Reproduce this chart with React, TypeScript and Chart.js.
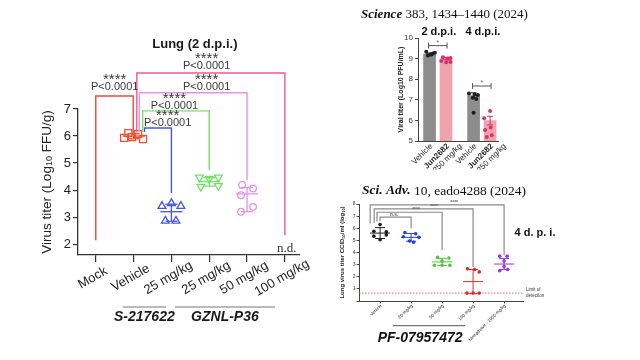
import { useEffect, useRef } from "react";
import { Chart, registerables } from "chart.js";

Chart.register(...registerables);

const SANS = "'Liberation Sans', Arial, Helvetica, sans-serif";
const SERIF = "'Liberation Serif', 'Times New Roman', serif";

// ---------------- Panel 1: Lung (2 d.p.i.) ----------------
const lungCategories = ["Mock", "Vehicle", "25 mg/kg", "25 mg/kg", "50 mg/kg", "100 mg/kg"];
const lungDrugGroups = ["S-217622", "GZNL-P36"];
const lungDrugSpans = [[0.71, 1.86], [2.09, 4.74]];
const vehicleTiter = [5.93, 6.11, 5.96, 6.07, 5.89];
const vehicleJitter = [-0.25, -0.14, -0.04, 0.12, 0.25];
const s217622Titer = [3.41, 3.51, 3.41, 2.86, 2.86];
const s217622Jitter = [-0.25, 0, 0.25, -0.16, 0.12];
const gznl25Titer = [4.47, 4.42, 4.47, 4.13, 4.16];
const gznl25Jitter = [-0.26, 0, 0.24, -0.22, 0.24];
const gznl50Titer = [4.19, 4.06, 3.81, 3.38, 3.2];
const gznl50Jitter = [-0.13, 0.16, -0.16, 0.16, -0.16];
const lungCenter = [NaN, 6.0, 3.2, 4.31, 3.86, NaN];
const lungLow = [NaN, 5.9, 2.85, 4.15, 3.2, NaN];
const lungHigh = [NaN, 6.09, 3.48, 4.46, 4.1, NaN];
// [from, to, top, fromEnd, toEnd]
const lungBrackets = [
  [0, 0.99, 7.48, 2.15, 6.1],
  [1.085, 5, 8.33, 6.15, 2.33],
  [1.15, 4, 7.6, 6.15, 4.37],
  [1.24, 3, 6.93, 6.15, 4.74],
  [1.29, 2, 6.3, 6.15, 3.89],
];
const lungStars = ["****", "****", "****", "****", "****"];
const lungPValues = ["P<0.0001", "P<0.0001", "P<0.0001", "P<0.0001", "P<0.0001"];
const lungLabelX = [0.5, 2.93, 2.93, 2.08, 1.9];
const lungLabelY = [7.81, 8.59, 7.81, 7.11, 6.48];
const lungNotDetected = { x: 5.05, y: 1.85, text: "n.d." };

// ---------------- Panel 2: Science ----------------
const sciLabels = ["Vehicle", "Jun2682", "Vehicle", "Jun2682"];
const sciDose = ["", "250 mg/kg", "", "250 mg/kg"];
const sciX = [0, 1, 2.67, 3.67];
const sciPeriods = ["2 d.p.i.", "4 d.p.i."];
const sciBarMean = [9.22, 9.0, 7.2, 5.99];
const sciBarSem = [0.05, 0.06, 0.14, 0.21];
const sciVehicle2 = [9.33, 9.2, 9.25, 9.28, 9.15, 9.2];
const sciVehicle2Jitter = [-0.2, 0.05, 0.2, 0.32, -0.1, 0.12];
const sciJun2 = [9.06, 9.01, 9.03, 8.88, 8.82, 8.84];
const sciJun2Jitter = [-0.19, 0.11, 0.27, -0.29, 0.01, 0.27];
const sciVehicle4 = [7.31, 7.26, 7.23, 7.1, 7.04, 6.37];
const sciVehicle4Jitter = [-0.28, 0.06, 0.26, -0.04, 0.16, 0];
const sciJun4 = [6.46, 6.1, 5.65, 5.53, 5.2, 5.28];
const sciJun4Jitter = [0, -0.36, 0.04, -0.3, -0.2, 0.1];
const sciBracketY = [9.63, 7.67];
const sciBracketMark = ["*", "*"];

// ---------------- Panel 3: Sci. Adv. ----------------
const advLabels = ["Vehicle", "20 mg/kg", "50 mg/kg", "150 mg/kg", "Nirmatrelvir - 1000 mg/kg"];
const advVehicle = [6.3, 5.75, 5.7, 5.35, 5.45, 5.05];
const advVehicleJitter = [0, -0.2, 0.2, -0.2, 0.2, 0];
const adv20 = [5.65, 5.55, 5.3, 5.25, 4.95, 4.85];
const adv20Jitter = [-0.2, 0.15, -0.25, 0.25, -0.05, 0.08];
const adv50 = [3.6, 3.55, 3.3, 2.95, 2.95, 2.95];
const adv50Jitter = [-0.15, 0.22, 0, -0.25, 0, 0.25];
const adv150 = [2.65, 2.6, 2.4, 0.65, 0.65, 0.65];
const adv150Jitter = [-0.18, 0.05, 0.2, -0.2, 0, 0.2];
const advNirma = [3.7, 3.7, 3.3, 2.85, 2.5, 2.6];
const advNirmaJitter = [-0.14, 0.1, 0, 0, -0.14, 0.12];
const advMean = [5.6, 5.25, 3.22, 1.6, 3.05];
const advSd = [0.45, 0.32, 0.3, 1.0, 0.45];
// [from, to, top, fromEnd, toEnd]
const advBrackets = [
  [-0.32, 4, 7.93, 6.4, 3.77],
  [-0.19, 3, 7.6, 6.45, 2.8],
  [-0.1, 2, 7.32, 6.55, 4.2],
  [0, 1, 6.91, 6.6, 6.0],
];
const advMarks = ["****", "****", "****", "n.s."];
const advMarkX = [2.39, 1.74, 1.16, 0.45];
const advLimit = 0.65;
const advDrug = "PF-07957472";
const advDrugSpan = [0.42, 2.74];

// ---------------- styles ----------------
const C_VEH = "#ee5232";
const C_RED = "#ea4a3c";
const C_PINK = "#ee5b8f";
const C_VIOLET = "#e394e6";
const C_GREEN = "#74e06a";
const C_BLUE = "#4258e4";
const lungBracketColors = [C_RED, C_PINK, C_VIOLET, C_GREEN, C_BLUE];
const lungGroupColors = ["", C_VEH, C_BLUE, C_GREEN, C_VIOLET, ""];
const advColors = ["#1a1a1a", "#2a3fe0", "#4fc43c", "#e02a2a", "#9a32e0"];

function seg(ctx: any, x1: number, y1: number, x2: number, y2: number) {
  ctx.beginPath();
  ctx.moveTo(x1, y1);
  ctx.lineTo(x2, y2);
  ctx.stroke();
}

function rich(ctx: any, parts: any[], x: number, y: number, align: string) {
  let total = 0;
  for (const p of parts) {
    ctx.font = p[1];
    total += ctx.measureText(p[0]).width;
  }
  let cx = align === "center" ? x - total / 2 : align === "right" ? x - total : x;
  ctx.textAlign = "left";
  for (const p of parts) {
    ctx.font = p[1];
    ctx.fillText(p[0], cx, y + (p[2] || 0));
    cx += ctx.measureText(p[0]).width;
  }
}

const pts = (vals: number[], jit: number[], cx: number) =>
  vals.map((v, i) => ({ x: cx + jit[i], y: v }));

const noLabel = () => "";

// ---------------- Panel 1 config ----------------
function configLung(): any {
  const decor = {
    id: "lungDecor",
    afterDatasetsDraw(chart: any) {
      const { ctx, scales } = chart;
      const x = scales.x, y = scales.y;
      ctx.save();
      ctx.lineWidth = 1.3;
      lungCenter.forEach((m, i) => {
        if (isNaN(m)) return;
        const px = x.getPixelForValue(i);
        ctx.strokeStyle = lungGroupColors[i];
        seg(ctx, px - 11, y.getPixelForValue(m), px + 11, y.getPixelForValue(m));
        seg(ctx, px, y.getPixelForValue(lungLow[i]), px, y.getPixelForValue(lungHigh[i]));
        seg(ctx, px - 6, y.getPixelForValue(lungLow[i]), px + 6, y.getPixelForValue(lungLow[i]));
        seg(ctx, px - 6, y.getPixelForValue(lungHigh[i]), px + 6, y.getPixelForValue(lungHigh[i]));
      });
      ctx.restore();
    },
    afterDraw(chart: any) {
      const { ctx, scales } = chart;
      const x = scales.x, y = scales.y;
      ctx.save();
      // brackets
      ctx.lineWidth = 1.4;
      lungBrackets.forEach((b, i) => {
        ctx.strokeStyle = lungBracketColors[i];
        const x1 = x.getPixelForValue(b[0]);
        const x2 = x.getPixelForValue(b[1]);
        const yt = y.getPixelForValue(b[2]);
        ctx.beginPath();
        ctx.moveTo(x1, y.getPixelForValue(b[3]));
        ctx.lineTo(x1, yt);
        ctx.lineTo(x2, yt);
        ctx.lineTo(x2, y.getPixelForValue(b[4]));
        ctx.stroke();
      });
      // significance labels
      ctx.fillStyle = "#3a3a3a";
      ctx.textAlign = "center";
      lungBrackets.forEach((_, i) => {
        const px = x.getPixelForValue(lungLabelX[i]);
        const py = y.getPixelForValue(lungLabelY[i]);
        ctx.font = `11px ${SANS}`;
        ctx.textBaseline = "middle";
        ctx.fillText(lungPValues[i], px, py);
        ctx.font = `15px ${SANS}`;
        ctx.textBaseline = "alphabetic";
        ctx.fillText(lungStars[i], px, py - 3);
      });
      // n.d.
      ctx.fillStyle = "#333";
      ctx.font = `13px ${SERIF}`;
      ctx.textBaseline = "middle";
      ctx.fillText(lungNotDetected.text, x.getPixelForValue(lungNotDetected.x), y.getPixelForValue(lungNotDetected.y));
      // x labels
      ctx.fillStyle = "#222";
      ctx.font = `13px ${SANS}`;
      const ly = x.bottom - x.height + 23;
      lungCategories.forEach((lab, i) => {
        ctx.save();
        ctx.translate(x.getPixelForValue(i) - 3, ly);
        ctx.rotate((-30 * Math.PI) / 180);
        ctx.textAlign = "center";
        ctx.textBaseline = "middle";
        ctx.fillText(lab, 0, 0);
        ctx.restore();
      });
      // drug groups
      ctx.strokeStyle = "#777";
      ctx.lineWidth = 1;
      ctx.font = `italic bold 14px ${SANS}`;
      ctx.textAlign = "center";
      ctx.fillStyle = "#1a1a1a";
      lungDrugGroups.forEach((g, i) => {
        const a = x.getPixelForValue(lungDrugSpans[i][0]);
        const b = x.getPixelForValue(lungDrugSpans[i][1]);
        seg(ctx, a, ly + 29, b, ly + 29);
        ctx.fillText(g, (a + b) / 2, ly + 39);
      });
      // y title
      ctx.save();
      ctx.translate(47, (y.top + y.bottom) / 2);
      ctx.rotate(-Math.PI / 2);
      ctx.fillStyle = "#222";
      ctx.textBaseline = "middle";
      rich(ctx, [["Virus titer (Log", `13.5px ${SANS}`, 0], ["10", `9px ${SANS}`, 3], [" FFU/g)", `13.5px ${SANS}`, 0]], 0, 0, "center");
      ctx.restore();
      // title
      ctx.fillStyle = "#1a1a1a";
      ctx.font = `bold 13px ${SANS}`;
      ctx.textAlign = "center";
      ctx.textBaseline = "middle";
      ctx.fillText("Lung (2 d.p.i.)", x.getPixelForValue(2.62), 44);
      ctx.restore();
    },
  };
  return {
    type: "scatter",
    data: {
      datasets: [
        { data: pts(vehicleTiter, vehicleJitter, 1), pointStyle: "rect", pointRadius: 5, pointBorderColor: C_VEH, pointBackgroundColor: "rgba(255,255,255,0)", pointBorderWidth: 1.3 },
        { data: pts(s217622Titer, s217622Jitter, 2), pointStyle: "triangle", pointRadius: 4.5, pointBorderColor: C_BLUE, pointBackgroundColor: "rgba(255,255,255,0)", pointBorderWidth: 1.3 },
        { data: pts(gznl25Titer, gznl25Jitter, 3), pointStyle: "triangle", pointRotation: 180, pointRadius: 4.5, pointBorderColor: C_GREEN, pointBackgroundColor: "rgba(255,255,255,0)", pointBorderWidth: 1.3 },
        { data: pts(gznl50Titer, gznl50Jitter, 4), pointStyle: "circle", pointRadius: 3.3, pointBorderColor: C_VIOLET, pointBackgroundColor: "rgba(255,255,255,0)", pointBorderWidth: 1.3 },
      ],
    },
    options: {
      animation: false,
      responsive: false,
      layout: { padding: { left: 0, right: 30, top: 109, bottom: 0 } },
      plugins: { legend: { display: false }, tooltip: { enabled: false } },
      scales: {
        x: {
          type: "linear",
          min: -0.47,
          max: 5.4,
          afterFit: (s: any) => { s.height = 105; },
          ticks: { stepSize: 1, includeBounds: false, callback: noLabel },
          grid: { drawOnChartArea: false, tickLength: 7, color: "#333", lineWidth: 1.2 },
          border: { color: "#333", width: 1.3 },
        },
        y: {
          min: 1.6,
          max: 7,
          afterFit: (s: any) => { s.width = 78; },
          ticks: { stepSize: 1, includeBounds: false, font: { size: 13, family: SANS }, color: "#222", padding: 2 },
          grid: { drawOnChartArea: false, tickLength: 5, color: "#333", lineWidth: 1.2 },
          border: { color: "#333", width: 1.3 },
        },
      },
    },
    plugins: [decor],
  };
}

// ---------------- Panel 2 config ----------------
function configSci(): any {
  const decor = {
    id: "sciDecor",
    afterDatasetsDraw(chart: any) {
      const { ctx, scales } = chart;
      const x = scales.x, y = scales.y;
      ctx.save();
      ctx.lineWidth = 1;
      sciBarMean.forEach((m, i) => {
        const px = x.getPixelForValue(sciX[i]);
        ctx.strokeStyle = i % 2 === 0 ? "#222" : "#d2325f";
        const hi = y.getPixelForValue(m + sciBarSem[i]);
        const lo = y.getPixelForValue(m - sciBarSem[i]);
        seg(ctx, px, lo, px, hi);
        seg(ctx, px - 3, hi, px + 3, hi);
        seg(ctx, px - 3, lo, px + 3, lo);
      });
      ctx.restore();
    },
    afterDraw(chart: any) {
      const { ctx, scales } = chart;
      const x = scales.x, y = scales.y;
      ctx.save();
      // title
      ctx.fillStyle = "#111";
      ctx.textBaseline = "middle";
      rich(ctx, [["Science", `italic bold 13px ${SERIF}`, 0], [" 383, 1434\u20131440 (2024)", `13px ${SERIF}`, 0]], 31, 15, "left");
      // periods
      ctx.font = `bold 11px ${SANS}`;
      ctx.textAlign = "center";
      sciPeriods.forEach((p, i) => {
        const px = x.getPixelForValue((sciX[2 * i] + sciX[2 * i + 1]) / 2);
        ctx.fillText(p, px + 1, 32);
      });
      // brackets
      ctx.strokeStyle = "#555";
      ctx.fillStyle = "#777";
      ctx.lineWidth = 1;
      sciBracketY.forEach((v, i) => {
        const a = x.getPixelForValue(sciX[2 * i]) - 1;
        const b = x.getPixelForValue(sciX[2 * i + 1]) + 1;
        const py = y.getPixelForValue(v);
        seg(ctx, a, py, b, py);
        seg(ctx, a, py - 3, a, py + 3);
        seg(ctx, b, py - 3, b, py + 3);
        ctx.font = `8px ${SANS}`;
        ctx.textAlign = "center";
        ctx.textBaseline = "alphabetic";
        ctx.fillText(sciBracketMark[i], (a + b) / 2, py - 1);
      });
      // x labels
      ctx.fillStyle = "#222";
      const ly = y.bottom + 4;
      sciLabels.forEach((lab, i) => {
        ctx.save();
        ctx.translate(x.getPixelForValue(sciX[i]) + 2, ly);
        ctx.rotate(-Math.PI / 4);
        ctx.textAlign = "right";
        ctx.textBaseline = "middle";
        if (sciDose[i]) {
          ctx.font = `bold 8px ${SANS}`;
          ctx.fillText(lab, 0, 0);
          ctx.font = `8px ${SANS}`;
          ctx.fillText(sciDose[i], 9, 9);
        } else {
          ctx.font = `8px ${SANS}`;
          ctx.fillText(lab, 0, 0);
        }
        ctx.restore();
      });
      // y title
      ctx.save();
      ctx.translate(71, (y.top + y.bottom) / 2);
      ctx.rotate(-Math.PI / 2);
      ctx.fillStyle = "#222";
      ctx.font = `bold 7px ${SANS}`;
      ctx.textAlign = "center";
      ctx.textBaseline = "middle";
      ctx.fillText("Viral titer (Log10 PFU/mL)", 0, 0);
      ctx.restore();
      ctx.restore();
    },
  };
  const dot = (vals: number[], jit: number[], i: number, color: string) => ({
    type: "scatter",
    data: pts(vals, jit, sciX[i]),
    pointRadius: 2,
    pointBackgroundColor: color,
    pointBorderWidth: 0,
  });
  return {
    type: "bar",
    data: {
      datasets: [
        dot(sciVehicle2, sciVehicle2Jitter, 0, "#1e1e1e"),
        dot(sciJun2, sciJun2Jitter, 1, "#d6336c"),
        dot(sciVehicle4, sciVehicle4Jitter, 2, "#1e1e1e"),
        dot(sciJun4, sciJun4Jitter, 3, "#d6336c"),
        {
          type: "bar",
          data: sciBarMean.map((m, i) => ({ x: sciX[i], y: m })),
          backgroundColor: ["#8d8d8d", "#eea3ad", "#8d8d8d", "#eea3ad"],
          barThickness: 12,
          order: 10,
        },
      ],
    },
    options: {
      animation: false,
      responsive: false,
      layout: { padding: { left: 0, right: 142, top: 38, bottom: 0 } },
      plugins: { legend: { display: false }, tooltip: { enabled: false } },
      scales: {
        x: {
          type: "linear",
          offset: false,
          min: -0.7,
          max: 4.15,
          afterFit: (s: any) => { s.height = 29; },
          ticks: { stepSize: 1, includeBounds: false, callback: noLabel },
          grid: { display: true, drawOnChartArea: false, drawTicks: false, offset: false },
          border: { color: "#444", width: 1 },
        },
        y: {
          min: 5,
          max: 10,
          afterFit: (s: any) => { s.width = 88; },
          ticks: { stepSize: 1, font: { size: 8, family: SANS }, color: "#333", padding: 2 },
          grid: { drawOnChartArea: false, tickLength: 3, color: "#444" },
          border: { color: "#444", width: 1 },
        },
      },
    },
    plugins: [decor],
  };
}

// ---------------- Panel 3 config ----------------
function configAdv(): any {
  const decor = {
    id: "advDecor",
    beforeDatasetsDraw(chart: any) {
      const { ctx, scales } = chart;
      const x = scales.x, y = scales.y;
      ctx.save();
      ctx.strokeStyle = "#e4463c";
      ctx.lineWidth = 0.8;
      ctx.setLineDash([1.5, 1.5]);
      const ly = y.getPixelForValue(advLimit);
      seg(ctx, x.left, ly, x.right, ly);
      ctx.restore();
    },
    afterDatasetsDraw(chart: any) {
      const { ctx, scales } = chart;
      const x = scales.x, y = scales.y;
      ctx.save();
      ctx.lineWidth = 1;
      advMean.forEach((m, i) => {
        const px = x.getPixelForValue(i);
        ctx.strokeStyle = advColors[i];
        const hi = y.getPixelForValue(m + advSd[i]);
        const lo = y.getPixelForValue(m - advSd[i]);
        seg(ctx, px - 10, y.getPixelForValue(m), px + 10, y.getPixelForValue(m));
        seg(ctx, px, lo, px, hi);
        seg(ctx, px - 5, hi, px + 5, hi);
        seg(ctx, px - 5, lo, px + 5, lo);
      });
      ctx.restore();
    },
    afterDraw(chart: any) {
      const { ctx, scales } = chart;
      const x = scales.x, y = scales.y;
      ctx.save();
      // title
      ctx.fillStyle = "#111";
      ctx.textBaseline = "middle";
      rich(ctx, [["Sci. Adv.", `italic bold 13.5px ${SERIF}`, 0], [" 10, eado4288 (2024)", `13.5px ${SERIF}`, 0]], 32, 21, "left");
      // brackets
      ctx.strokeStyle = "#8a8a8a";
      ctx.lineWidth = 1.2;
      advBrackets.forEach((b) => {
        const x1 = x.getPixelForValue(b[0]);
        const x2 = x.getPixelForValue(b[1]);
        const yt = y.getPixelForValue(b[2]);
        ctx.beginPath();
        ctx.moveTo(x1, y.getPixelForValue(b[3]));
        ctx.lineTo(x1, yt);
        ctx.lineTo(x2, yt);
        ctx.lineTo(x2, y.getPixelForValue(b[4]));
        ctx.stroke();
      });
      ctx.fillStyle = "#666";
      ctx.textAlign = "center";
      ctx.textBaseline = "alphabetic";
      advBrackets.forEach((b, i) => {
        ctx.font = `bold 5px ${SANS}`;
        ctx.fillText(advMarks[i], x.getPixelForValue(advMarkX[i]), y.getPixelForValue(b[2]) - 1);
      });
      // LOD text
      ctx.fillStyle = "#333";
      ctx.font = `4.5px ${SANS}`;
      ctx.textAlign = "left";
      ctx.textBaseline = "middle";
      const ly = y.getPixelForValue(advLimit);
      ctx.fillText("Limit of", x.right + 3, ly - 3);
      ctx.fillText("detection", x.right + 3, ly + 3);
      // 4 d.p.i.
      ctx.fillStyle = "#111";
      ctx.font = `bold 11px ${SANS}`;
      ctx.textAlign = "center";
      ctx.fillText("4 d. p. i.", x.right + 12, y.getPixelForValue(5.6));
      // x labels
      ctx.fillStyle = "#222";
      ctx.font = `4.5px ${SANS}`;
      advLabels.forEach((lab, i) => {
        ctx.save();
        ctx.translate(x.getPixelForValue(i) + 1, y.bottom + 4);
        ctx.rotate(-Math.PI / 4);
        ctx.textAlign = "right";
        ctx.textBaseline = "middle";
        ctx.fillText(lab, 0, 0);
        ctx.restore();
      });
      // drug label
      ctx.strokeStyle = "#555";
      ctx.lineWidth = 1;
      const a = x.getPixelForValue(advDrugSpan[0]);
      const b2 = x.getPixelForValue(advDrugSpan[1]);
      seg(ctx, a, y.bottom + 24.7, b2, y.bottom + 24.7);
      ctx.fillStyle = "#111";
      ctx.font = `italic bold 14px ${SANS}`;
      ctx.textAlign = "center";
      ctx.fillText(advDrug, (a + b2) / 2 - 9, y.bottom + 37);
      // y title
      ctx.save();
      ctx.translate(12, (y.top + y.bottom) / 2);
      ctx.rotate(-Math.PI / 2);
      ctx.fillStyle = "#222";
      ctx.textBaseline = "middle";
      const f = `bold 6px ${SANS}`;
      const fs = `bold 4px ${SANS}`;
      rich(ctx, [["Lung virus titer CCID", f, 0], ["50", fs, 1.5], ["/ml (log", f, 0], ["10", fs, 1.5], [")", f, 0]], 0, 0, "center");
      ctx.restore();
      ctx.restore();
    },
  };
  const dot = (vals: number[], jit: number[], i: number) => ({
    data: pts(vals, jit, i),
    pointRadius: 1.8,
    pointBackgroundColor: advColors[i],
    pointBorderWidth: 0,
  });
  return {
    type: "scatter",
    data: {
      datasets: [
        dot(advVehicle, advVehicleJitter, 0),
        dot(adv20, adv20Jitter, 1),
        dot(adv50, adv50Jitter, 2),
        dot(adv150, adv150Jitter, 3),
        dot(advNirma, advNirmaJitter, 4),
      ],
    },
    options: {
      animation: false,
      responsive: false,
      layout: { padding: { left: 0, right: 117, top: 34, bottom: 0 } },
      plugins: { legend: { display: false }, tooltip: { enabled: false } },
      scales: {
        x: {
          type: "linear",
          min: -0.68,
          max: 4.61,
          afterFit: (s: any) => { s.height = 59; },
          ticks: { stepSize: 1, includeBounds: false, callback: noLabel },
          grid: { drawOnChartArea: false, tickLength: 2.5, color: "#444" },
          border: { color: "#444", width: 1 },
        },
        y: {
          min: 0,
          max: 8,
          afterFit: (s: any) => { s.width = 29; },
          ticks: { stepSize: 1, font: { size: 5, family: SANS }, color: "#333", padding: 1, callback: (v: any) => (v === 0 ? "" : String(v)) },
          grid: { drawOnChartArea: false, tickLength: 2.5, color: "#444" },
          border: { color: "#444", width: 1 },
        },
      },
    },
    plugins: [decor],
  };
}

export default function App() {
  const refA = useRef<HTMLCanvasElement>(null);
  const refB = useRef<HTMLCanvasElement>(null);
  const refC = useRef<HTMLCanvasElement>(null);
  useEffect(() => {
    const charts = [
      new Chart(refA.current as HTMLCanvasElement, configLung()),
      new Chart(refB.current as HTMLCanvasElement, configSci()),
      new Chart(refC.current as HTMLCanvasElement, configAdv()),
    ];
    return () => charts.forEach((c) => c.destroy());
  }, []);
  return (
    <div style={{ position: "fixed", left: 0, top: 0, width: 640, height: 360, background: "#fff", overflow: "hidden" }}>
      <canvas ref={refA} width={330} height={360} style={{ position: "absolute", left: 0, top: 0, width: 330, height: 360 }} />
      <canvas ref={refB} width={310} height={170} style={{ position: "absolute", left: 330, top: 0, width: 310, height: 170 }} />
      <canvas ref={refC} width={310} height={190} style={{ position: "absolute", left: 330, top: 170, width: 310, height: 190 }} />
    </div>
  );
}
